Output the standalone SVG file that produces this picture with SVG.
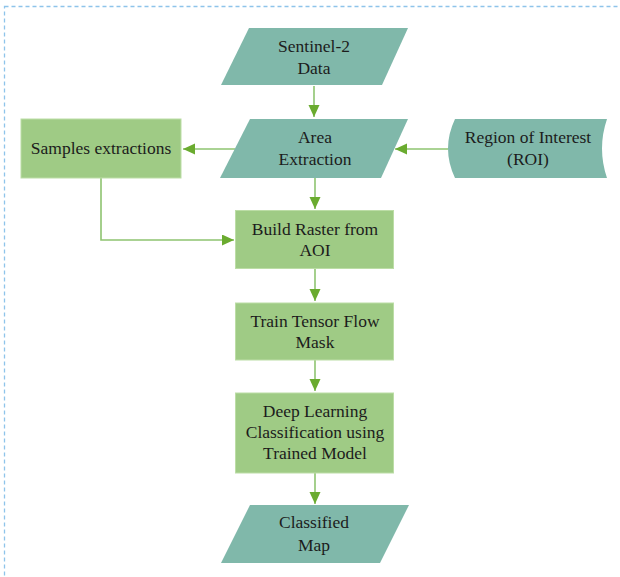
<svg xmlns="http://www.w3.org/2000/svg" width="620" height="577" viewBox="0 0 620 577">
<style>
  .io { fill: #80b8aa; }
  .proc { fill: #9fcb85; stroke: #bcdda6; stroke-width: 1; }
  .lbl { font-family: 'Liberation Serif', 'Times New Roman', 'DejaVu Serif', serif; font-size: 17.5px; fill: #1c1c1c; text-anchor: middle; }
  .edge { fill: none; stroke: #8ec470; stroke-width: 1.6; marker-end: url(#ah); }
</style>
<defs>
  <marker id="ah" markerUnits="userSpaceOnUse" markerWidth="13" markerHeight="12" refX="12" refY="5.5" orient="auto">
    <path d="M0,0 L12,5.5 L0,11 Z" fill="#6aab2f"/>
  </marker>
</defs>
<rect x="0" y="0" width="620" height="577" fill="#ffffff"/>
<rect x="4.5" y="6.5" width="640" height="600" fill="none" stroke="#8ec4ea" stroke-width="1.3" stroke-dasharray="4,3"/>

<g id="connectors">
  <path class="edge" d="M314,86 V117"/>
  <path class="edge" d="M235,149 H183"/>
  <path class="edge" d="M448,149 H395"/>
  <path class="edge" d="M315,178 V209"/>
  <path class="edge" d="M101,178 V240 H234"/>
  <path class="edge" d="M315,269 V301"/>
  <path class="edge" d="M315,360 V391"/>
  <path class="edge" d="M315,473 V504"/>
</g>

<g id="sentinel">
  <polygon class="io" points="249,28 408,28 382,85 221,85"/>
  <text class="lbl" font-family="Liberation Serif, serif" x="314" y="52">Sentinel-2</text>
  <text class="lbl" font-family="Liberation Serif, serif" x="314" y="74">Data</text>
</g>

<g id="area">
  <polygon class="io" points="250,119 408,119 381,178 220,178"/>
  <text class="lbl" x="315" y="143">Area</text>
  <text class="lbl" x="315" y="165">Extraction</text>
</g>

<g id="samples">
  <rect class="proc" x="21" y="119" width="160" height="59"/>
  <text class="lbl" x="101" y="154">Samples extractions</text>
</g>

<g id="roi">
  <path class="io" d="M455,119 H607 Q597,148.5 607,178 H455 Q441,148.5 455,119 Z"/>
  <text class="lbl" x="528" y="143">Region of Interest</text>
  <text class="lbl" x="528" y="165">(ROI)</text>
</g>

<g id="build">
  <rect class="proc" x="235.5" y="210.5" width="158" height="58"/>
  <text class="lbl" x="315" y="235">Build Raster from</text>
  <text class="lbl" x="315" y="256">AOI</text>
</g>

<g id="train">
  <rect class="proc" x="235.5" y="303" width="158" height="57"/>
  <text class="lbl" x="315" y="327">Train Tensor Flow</text>
  <text class="lbl" x="315" y="348">Mask</text>
</g>

<g id="deep">
  <rect class="proc" x="235.5" y="393" width="158" height="80"/>
  <text class="lbl" x="315" y="417">Deep Learning</text>
  <text class="lbl" x="315" y="438">Classification using</text>
  <text class="lbl" x="315" y="459">Trained Model</text>
</g>

<g id="classified">
  <polygon class="io" points="250,505 409,505 380,563 221,563"/>
  <text class="lbl" x="314" y="528">Classified</text>
  <text class="lbl" x="314" y="551">Map</text>
</g>
</svg>
